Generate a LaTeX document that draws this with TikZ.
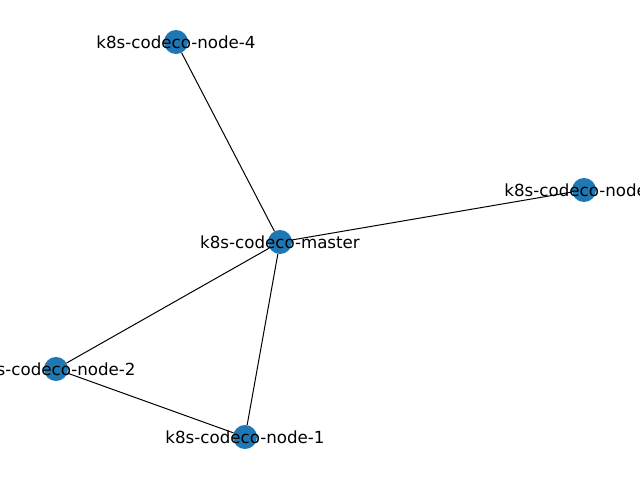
\documentclass[tikz,border=0pt]{standalone}
\usepackage{fontspec}
\setmainfont{DejaVu Sans}
\definecolor{nodeblue}{HTML}{1F77B4}
\tikzset{
  dot/.style={circle,fill=nodeblue,draw=none,minimum size=17.3pt,inner sep=0pt},
  lbl/.style={inner sep=0pt,font=\fontsize{12pt}{14pt}\selectfont},
  edge/.style={draw=black,line width=0.72pt}
}
\begin{document}
\begin{tikzpicture}[x=0.72pt,y=0.72pt,yscale=-1,xscale=1]
\useasboundingbox (0,0) rectangle (640,480);
\clip (0,0) rectangle (640,480);
% nodes
\node[dot] (master) at (280,242) {};
\node[dot] (n1) at (245,437) {};
\node[dot] (n2) at (56,369) {};
\node[dot] (n3) at (584,190) {};
\node[dot] (n4) at (176,42) {};
% edges
\draw[edge] (master) -- (n4);
\draw[edge] (master) -- (n3);
\draw[edge] (master) -- (n2);
\draw[edge] (master) -- (n1);
\draw[edge] (n2) -- (n1);
% labels
\node[lbl] (lmaster) at (master) {k8s-codeco-master};
\node[lbl] (ln1) at (n1) {k8s-codeco-node-1};
\node[lbl] (ln2) at (n2) {k8s-codeco-node-2};
\node[lbl] (ln3) at (n3) {k8s-codeco-node-3};
\node[lbl] (ln4) at (n4) {k8s-codeco-node-4};
\end{tikzpicture}
\end{document}
